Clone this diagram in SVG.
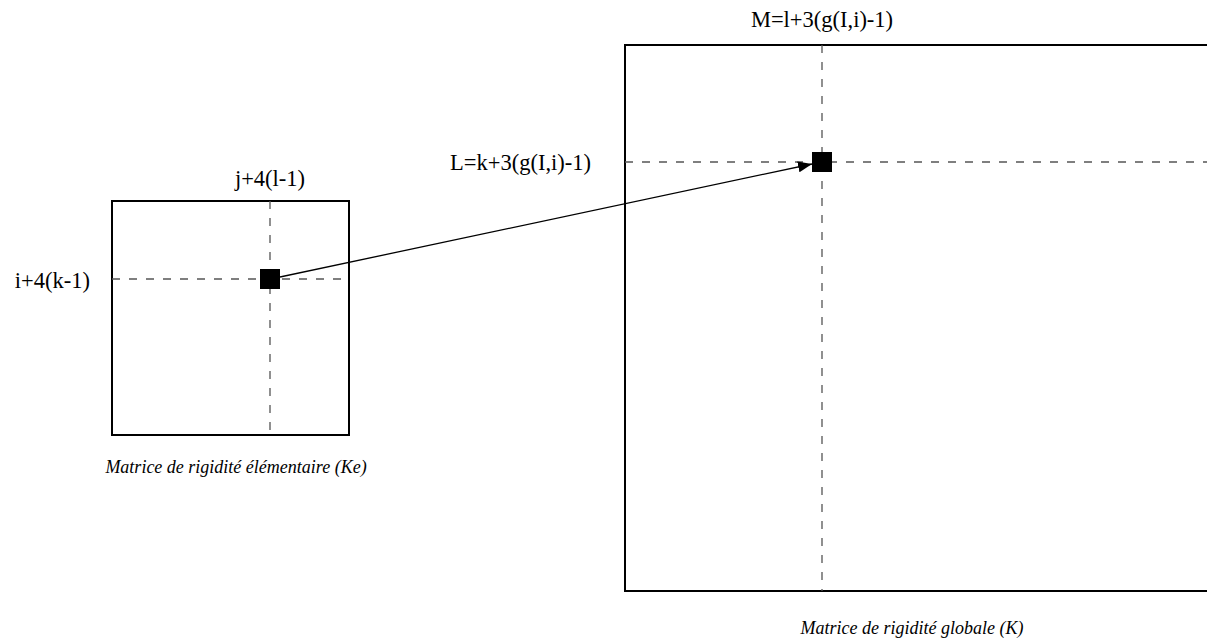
<svg xmlns="http://www.w3.org/2000/svg" width="1207" height="639" viewBox="0 0 1207 639">
<style>
.box{fill:none;stroke:#000;stroke-width:2}
.dash{fill:none;stroke:#555;stroke-width:1.3;stroke-dasharray:8 9}
.cell{fill:#000}
.lbl{font-family:"Liberation Serif","Times New Roman",serif;font-size:22.5px;fill:#000}
.cap{font-family:"Liberation Serif","Times New Roman",serif;font-size:18px;font-style:italic;fill:#000}
.conn{fill:none;stroke:#000;stroke-width:1.3}
</style>
<defs>
<marker id="arr" markerWidth="14" markerHeight="11" refX="14" refY="5.5" orient="auto" markerUnits="userSpaceOnUse">
<path d="M0,0 L14,5.5 L0,11 z" fill="#000"/>
</marker>
</defs>
<rect width="1207" height="639" fill="#fff"/>
<g id="ke">
<rect class="box" x="112" y="201" width="237" height="234"/>
<line class="dash" x1="270" y1="201" x2="270" y2="435"/>
<line class="dash" x1="112" y1="279" x2="349" y2="279"/>
<rect class="cell" x="260" y="269" width="20" height="20"/>
<text class="lbl" x="270" y="186" text-anchor="middle">j+4(l-1)</text>
<text class="lbl" x="90" y="288" text-anchor="end">i+4(k-1)</text>
<text class="cap" x="236" y="473" text-anchor="middle">Matrice de rigidité élémentaire (Ke)</text>
</g>
<g id="k">
<rect class="box" x="625" y="45" width="600" height="546"/>
<line class="dash" x1="822" y1="45" x2="822" y2="591"/>
<line class="dash" x1="625" y1="162" x2="1207" y2="162"/>
<rect class="cell" x="812" y="152" width="20" height="20"/>
<text class="lbl" x="822" y="27" text-anchor="middle">M=l+3(g(I,i)-1)</text>
<text class="lbl" x="591" y="170" text-anchor="end">L=k+3(g(I,i)-1)</text>
<text class="cap" x="912" y="634" text-anchor="middle">Matrice de rigidité globale (K)</text>
</g>
<g id="connectors">
<line class="conn" x1="280" y1="277" x2="812" y2="164" marker-end="url(#arr)"/>
</g>
</svg>
